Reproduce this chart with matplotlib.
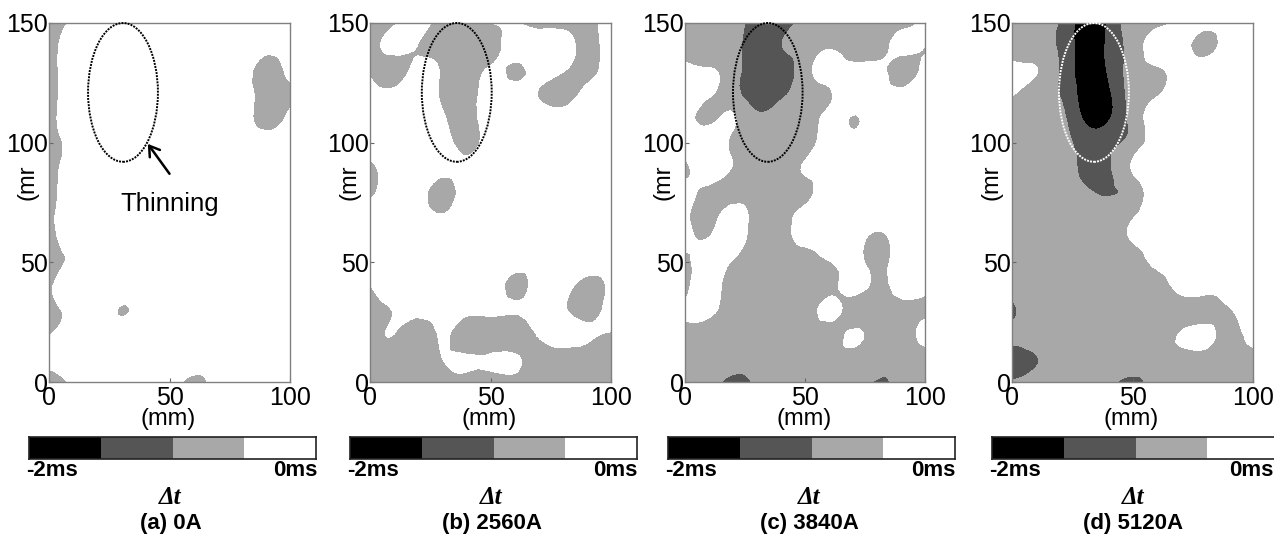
import matplotlib
matplotlib.use('Agg')
import matplotlib.pyplot as plt
import matplotlib.tri as mtri
from matplotlib.colors import ListedColormap
from matplotlib.patches import Ellipse
import numpy as np

plt.rcParams['font.family'] = ['Liberation Sans', 'DejaVu Sans']

W, H = 1274, 535

x_mm = [0, 10, 20, 30, 40, 50, 60, 70, 80, 90, 100]
y_mm = [150, 140, 130, 120, 110, 100, 90, 80, 70, 60, 50, 40, 30, 20, 10, 0]

# delta t in ms, rows from y=150 down to y=0
dt_a = [
    [-.8, -.42, -.2, -.2, -.2, -.2, -.2, -.2, -.2, -.2, -.2],
    [-.8, -.2, -.2, -.2, -.2, -.2, -.2, -.2, -.2, -.3, -.2],
    [-.8, -.2, -.2, -.2, -.2, -.2, -.2, -.2, -.2, -.8, -.2],
    [-.8, -.2, -.2, -.2, -.2, -.2, -.2, -.2, -.2, -.8, -.8],
    [-.8, -.15, -.2, -.2, -.2, -.2, -.2, -.2, -.2, -.8, -.2],
    [-.8, -.34, -.2, -.2, -.2, -.2, -.2, -.2, -.2, -.2, -.2],
    [-.8, -.25, -.2, -.2, -.2, -.2, -.2, -.2, -.2, -.2, -.2],
    [-.8, -.2, -.2, -.2, -.2, -.2, -.2, -.2, -.2, -.2, -.2],
    [-.7, -.1, -.2, -.2, -.2, -.2, -.2, -.2, -.2, -.2, -.2],
    [-.8, -.2, -.2, -.2, -.2, -.2, -.2, -.2, -.2, -.2, -.2],
    [-.8, -.37, -.2, -.2, -.2, -.2, -.2, -.2, -.2, -.2, -.2],
    [-.6, -.1, -.2, -.2, -.2, -.2, -.2, -.2, -.2, -.2, -.2],
    [-.8, -.3, -.2, -.53, -.3, -.2, -.2, -.2, -.2, -.2, -.2],
    [-.55, -.2, -.2, -.2, -.2, -.2, -.2, -.2, -.2, -.2, -.2],
    [-.3, -.2, -.2, -.2, -.2, -.2, -.2, -.2, -.2, -.2, -.2],
    [-.9, -.4, -.2, -.2, -.2, -.2, -.7, -.2, -.2, -.2, -.2],
]
dt_b = [
    [-.8, -.6, -.3, -.8, -.8, -.48, -.45, -.7, -.7, -.7, -.1],
    [-.8, -.3, -.52, -.8, -.8, -.8, -.2, -.2, -.2, -.7, -.1],
    [-.55, -.8, -.3, -.6, -.92, -.4, -.6, -.3, -.45, -.7, -.1],
    [-.2, -.3, -.2, -.6, -.8, -.2, -.2, -.52, -.8, -.3, -.2],
    [-.2, -.2, -.2, -.4, -.8, -.1, -.2, -.2, -.2, -.2, -.2],
    [-.2, -.2, -.2, -.2, -.75, -.2, -.2, -.2, -.2, -.2, -.2],
    [-.65, -.2, -.2, -.2, -.3, -.2, -.2, -.2, -.2, -.2, -.2],
    [-.65, -.2, -.2, -.8, -.2, -.2, -.2, -.2, -.2, -.2, -.2],
    [-.2, -.2, -.2, -.48, -.2, -.2, -.2, -.2, -.2, -.2, -.2],
    [-.2, -.2, -.2, -.2, -.2, -.2, -.2, -.2, -.2, -.2, -.2],
    [-.2, -.2, -.2, -.2, -.2, -.2, -.2, -.2, -.2, -.2, -.2],
    [-.52, -.2, -.2, -.2, -.2, -.2, -.7, -.2, -.2, -.8, -.3],
    [-.8, -.48, -.35, -.3, -.35, -.35, -.45, -.2, -.4, -.8, -.1],
    [-.8, -.5, -.8, -.45, -.8, -.8, -.8, -.45, -.2, -.4, -.55],
    [-.8, -.8, -.8, -.5, -.42, -.42, -.42, -.8, -.8, -.8, -.8],
    [-.8, -.8, -.8, -.8, -.9, -.9, -.7, -.8, -.8, -.9, -.8],
]
dt_c = [
    [-.8, -.8, -.8, -1.25, -1.3, -.8, -.8, -.8, -.8, -.8, -.2],
    [-.8, -.8, -.8, -1.3, -1.02, -.8, -.55, -.8, -.8, -.3, -.52],
    [-.3, -.45, -.8, -1.3, -1.3, -.7, -.3, -.3, -.3, -.8, -.2],
    [-.2, -.45, -.8, -1.3, -1.1, -.8, -.55, -.2, -.2, -.3, -.2],
    [-.3, -.6, -.45, -.9, -.8, -.8, -.35, -.53, -.2, -.2, -.2],
    [-.2, -.2, -.6, -.8, -.8, -.8, -.2, -.3, -.2, -.2, -.2],
    [-.65, -.2, -.52, -.8, -.8, -.45, -.2, -.2, -.49, -.2, -.2],
    [-.2, -.65, -.8, -.8, -.8, -.65, -.2, -.2, -.2, -.2, -.2],
    [-.35, -.8, -.2, -.8, -.8, -.3, -.2, -.2, -.1, -.1, -.52],
    [-.3, -.48, -.2, -.8, -.8, -.3, -.1, -.1, -.7, -.1, -.1],
    [-.7, -.2, -.55, -.8, -.8, -.8, -.55, -.2, -.75, -.1, -.1],
    [-.7, -.2, -.8, -.8, -.8, -.8, -.8, -.2, -.65, -.2, -.2],
    [-.4, -.35, -.8, -.8, -.8, -.8, -.3, -.8, -.8, -.8, -.7],
    [-.8, -.8, -.8, -.8, -.98, -.8, -.8, -.4, -.8, -.8, -.25],
    [-.8, -.8, -.8, -.8, -.8, -.8, -.8, -.8, -.8, -.8, -.8],
    [-.8, -.8, -1.15, -.9, -.8, -1.0, -.8, -.8, -1.05, -.8, -.8],
]
dt_d = [
    [-.8, -.8, -1.05, -1.7, -1.45, -.8, -.7, -.3, -.1, -.2, -.2],
    [-.8, -.8, -1.1, -1.7, -1.4, -.8, -.2, -.2, -.75, -.2, -.2],
    [-.3, -.48, -1.05, -1.7, -1.45, -.8, -.6, -.2, -.1, -.2, -.2],
    [-.45, -.8, -1.02, -1.7, -1.6, -.8, -.55, -.2, -.2, -.2, -.2],
    [-.8, -.8, -.85, -1.55, -1.55, -.85, -.25, -.2, -.2, -.49, -.2],
    [-.8, -.8, -.8, -1.2, -1.15, -.8, -.3, -.2, -.2, -.2, -.2],
    [-.8, -.8, -.8, -1.1, -1.05, -.45, -.2, -.49, -.2, -.2, -.2],
    [-.8, -.8, -.8, -.95, -1.05, -.8, -.2, -.2, -.2, -.2, -.2],
    [-.8, -.8, -.8, -.8, -.8, -.6, -.2, -.2, -.2, -.2, -.2],
    [-.8, -.8, -.8, -.8, -.8, -.45, -.2, -.2, -.2, -.2, -.2],
    [-.8, -.8, -.8, -.8, -.8, -.8, -.35, -.2, -.2, -.2, -.2],
    [-.8, -.8, -.8, -.8, -.8, -.8, -.8, -.3, -.2, -.2, -.2],
    [-1.1, -.8, -.8, -.8, -.8, -.8, -.8, -.8, -.8, -.55, -.2],
    [-.85, -.8, -.8, -.8, -.8, -.8, -.8, -.45, -.3, -.7, -.1],
    [-1.3, -1.02, -.8, -.8, -.8, -.8, -.8, -.8, -.75, -.8, -.8],
    [-.95, -.8, -.8, -.8, -.9, -1.1, -.8, -.8, -.8, -.8, -.8],
]

panels = [dt_a, dt_b, dt_c, dt_d]
captions = ['(a) 0A', '(b) 2560A', '(c) 3840A', '(d) 5120A']
ellipse_x = [30.7, 36, 34.5, 34]
ellipse_colors = ['black', 'black', 'black', 'white']
levels = [-2, -1.5, -1, -0.5, 0]
shades = ['black', '#555555', '#a8a8a8', 'white']

# pixel positions of each panel: axes left, axes right, bar left
ax_left = [49, 370, 685, 1012]
ax_right = [290, 611, 925, 1253]
bar_left = [29, 350, 668, 992]
AX_TOP, AX_BOTTOM = 23, 382
BAR_TOP, BAR_BOTTOM = 437, 459
BAR_W = 287


def px_axes(fig, left, right, top, bottom):
    return fig.add_axes([left / W, 1 - bottom / H, (right - left) / W, (bottom - top) / H])


def fig_text(fig, x, y, s, **kw):
    fig.text(x / W, 1 - y / H, s, ha=kw.pop('ha', 'center'), va='center', **kw)


def grid_triangles(n_rows, n_cols, flipped):
    # every cell split along the same diagonal, except the flipped (row, col) cells
    tris = []
    for r in range(n_rows - 1):
        for c in range(n_cols - 1):
            a = r * n_cols + c
            b = a + n_cols
            if (r, c) in flipped:
                tris.append([a, b, b + 1])
                tris.append([a, b + 1, a + 1])
            else:
                tris.append([a, b, a + 1])
                tris.append([b, b + 1, a + 1])
    return tris


fig = plt.figure(figsize=(W / 100, H / 100), dpi=100)

grid_x, grid_y = np.meshgrid(x_mm, y_mm)
# cell x 60-70, y 30-40 keeps the hole in panel (c) apart from the white lobe above it
triang = mtri.Triangulation(grid_x.ravel(), grid_y.ravel(),
                            grid_triangles(len(y_mm), len(x_mm), {(11, 6)}))
refiner = mtri.UniformTriRefiner(triang)

for i, dt in enumerate(panels):
    ax = px_axes(fig, ax_left[i], ax_right[i], AX_TOP, AX_BOTTOM)
    # the refiner rounds the contour corners
    fine_tri, fine_dt = refiner.refine_field(np.array(dt).ravel(), subdiv=3)
    ax.tricontourf(fine_tri, fine_dt, levels=levels, colors=shades)
    ax.add_patch(Ellipse((ellipse_x[i], 121), 29, 58, fill=False, ec=ellipse_colors[i],
                         ls=(0, (1, 0.6)), lw=1.4, clip_on=False, zorder=5))
    ax.set_xlim(0, 100)
    ax.set_ylim(0, 150)
    ax.set_xticks([0, 50, 100])
    ax.set_yticks([0, 50, 100, 150])
    ax.tick_params(direction='in', length=3, width=0.8, color='#666666', labelsize=18, pad=1)
    ax.tick_params(axis='x', pad=3)
    for side in ax.spines.values():
        side.set_color('#808080')
        side.set_linewidth(1)

    mid = (ax_left[i] + ax_right[i]) / 2
    fig_text(fig, mid - 1, 419, '(mm)', fontsize=17)
    fig_text(fig, ax_left[i] - 21, 182, '(mr', fontsize=17, rotation=90)

    # shade bar under each panel
    bar = px_axes(fig, bar_left[i], bar_left[i] + BAR_W, BAR_TOP, BAR_BOTTOM)
    bar.pcolormesh([[0, 1, 2, 3]], cmap=ListedColormap(shades), vmin=0, vmax=3)
    bar.set_xticks([])
    bar.set_yticks([])
    for side in bar.spines.values():
        side.set_linewidth(1.2)
        side.set_color('#222222')

    fig_text(fig, bar_left[i] - 3, 471, '-2ms', fontsize=16, fontweight='bold', ha='left')
    fig_text(fig, min(bar_left[i] + BAR_W + 1, W - 1), 471, '0ms', fontsize=16,
             fontweight='bold', ha='right')
    fig_text(fig, bar_left[i] + BAR_W / 2 - 2, 498, '\u0394t', fontsize=18, fontweight='bold',
             fontstyle='italic', family=['Liberation Serif', 'DejaVu Serif'])
    fig_text(fig, bar_left[i] + BAR_W / 2 - 2, 524, captions[i], fontsize=16, fontweight='bold')

    if i == 0:
        ax.annotate('', xy=(41, 99.5), xytext=(50, 87),
                    arrowprops=dict(arrowstyle='->,head_length=0.7,head_width=0.45', lw=1.8, color='black',
                                    shrinkA=0, shrinkB=0))
        ax.text(50, 74.5, 'Thinning', fontsize=18.5, ha='center', va='center')

fig.savefig('out.png', dpi=100, facecolor='white')
